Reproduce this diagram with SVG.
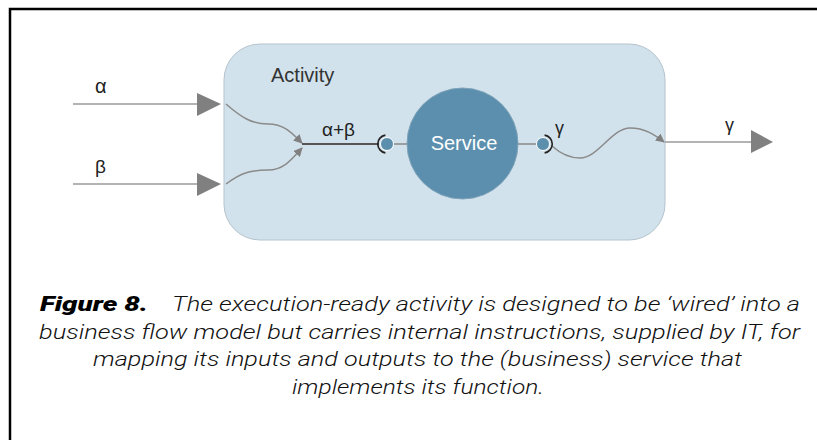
<svg xmlns="http://www.w3.org/2000/svg" width="817" height="440" viewBox="0 0 817 440">
  <style>
    .lbl { font-family: "Liberation Sans", Arial, sans-serif; fill: #222; }
    .wire { fill: none; stroke: #8a8a8a; stroke-width: 1.5; }
    .feed { fill: none; stroke: #9a9a9a; stroke-width: 1.5; }
    .head { fill: #808080; }
    .port { fill: #5b8fad; stroke: #ffffff; stroke-width: 1; }
    .socket { fill: none; stroke: #222; stroke-width: 1.6; }
    .cap { font-family: Roboto, "Liberation Sans", Arial, sans-serif; font-size: 21px; font-style: italic; font-weight: 300; fill: #111; }
    .fig { font-family: Roboto, "Liberation Sans", Arial, sans-serif; font-size: 21px; font-style: italic; font-weight: 900; fill: #000; }
  </style>
  <defs>
    <marker id="small" viewBox="0 0 10 10" refX="9" refY="5" markerWidth="9" markerHeight="9" markerUnits="userSpaceOnUse" orient="auto">
      <path d="M0,0 L10,5 L0,10 z" fill="#808080"/>
    </marker>
  </defs>
  <rect width="817" height="440" fill="#ffffff"/>
  <path d="M10,440 V9 H817" fill="none" stroke="#000" stroke-width="2.5"/>

  <g id="activity">
    <rect x="224" y="44" width="441" height="196" rx="36" ry="36" fill="#d2e2ec" stroke="#b5c3cc" stroke-width="1"/>
    <text class="lbl" x="271" y="82" font-size="20" style="fill:#333">Activity</text>
  </g>

  <g id="connectors">
    <line class="feed" x1="73" y1="104" x2="198" y2="104"/>
    <polygon class="head" points="197,93 221,104 197,116"/>
    <line class="feed" x1="73" y1="184" x2="198" y2="184"/>
    <polygon class="head" points="197,173 221,184 197,196"/>
    <path class="wire" d="M226,104 C242,118 252,124 268,124 C284,124 292,133 302,143" marker-end="url(#small)"/>
    <path class="wire" d="M226,184 C242,172 252,170 268,170 C284,170 292,159 302,148" marker-end="url(#small)"/>
    <line x1="302" y1="144" x2="379" y2="144" stroke="#555" stroke-width="2"/>
    <line x1="393" y1="144" x2="408" y2="144" stroke="#888" stroke-width="1.5"/>
    <line x1="517" y1="144" x2="537" y2="144" stroke="#888" stroke-width="1.5"/>
    <path class="wire" d="M552,146 C562,155 570,158 580,158 C598,158 612,128 630,128 C645,128 655,135 664,142" marker-end="url(#small)"/>
    <line class="feed" x1="665" y1="142" x2="752" y2="142"/>
    <polygon class="head" points="751,130 773,142 751,153"/>
  </g>

  <g id="labels">
    <text class="lbl" x="95" y="93" font-size="20">α</text>
    <text class="lbl" x="95" y="173" font-size="19">β</text>
    <text class="lbl" x="322" y="136" font-size="19">α+β</text>
    <text class="lbl" x="555" y="134" font-size="18">γ</text>
    <text class="lbl" x="725" y="131" font-size="18">γ</text>
  </g>

  <g id="port-in">
    <circle class="port" cx="387" cy="144" r="6.5"/>
    <path class="socket" d="M385.4,135.1 A9,9 0 0 0 385.4,152.9"/>
  </g>

  <g id="service">
    <circle cx="462.5" cy="143.5" r="55.5" fill="#5b8fad" stroke="#7fa3b9" stroke-width="1"/>
    <text x="464" y="150" font-family="Liberation Sans, Arial, sans-serif" font-size="20" fill="#ffffff" text-anchor="middle">Service</text>
  </g>

  <g id="port-out">
    <circle class="port" cx="543" cy="144" r="6.5"/>
    <path class="socket" d="M544.6,135.1 A9,9 0 0 1 544.6,152.9"/>
  </g>

  <g id="caption">
    <text class="fig" x="40" y="311" textLength="108" lengthAdjust="spacingAndGlyphs">Figure 8.</text>
    <text class="cap" x="172" y="311" textLength="628" lengthAdjust="spacingAndGlyphs">The execution-ready activity is designed to be ‘wired’ into a</text>
    <text class="cap" x="39" y="339" textLength="761" lengthAdjust="spacingAndGlyphs">business flow model but carries internal instructions, supplied by IT, for</text>
    <text class="cap" x="93" y="366" textLength="649" lengthAdjust="spacingAndGlyphs">mapping its inputs and outputs to the (business) service that</text>
    <text class="cap" x="292" y="394" textLength="252" lengthAdjust="spacingAndGlyphs">implements its function.</text>
  </g>
</svg>
